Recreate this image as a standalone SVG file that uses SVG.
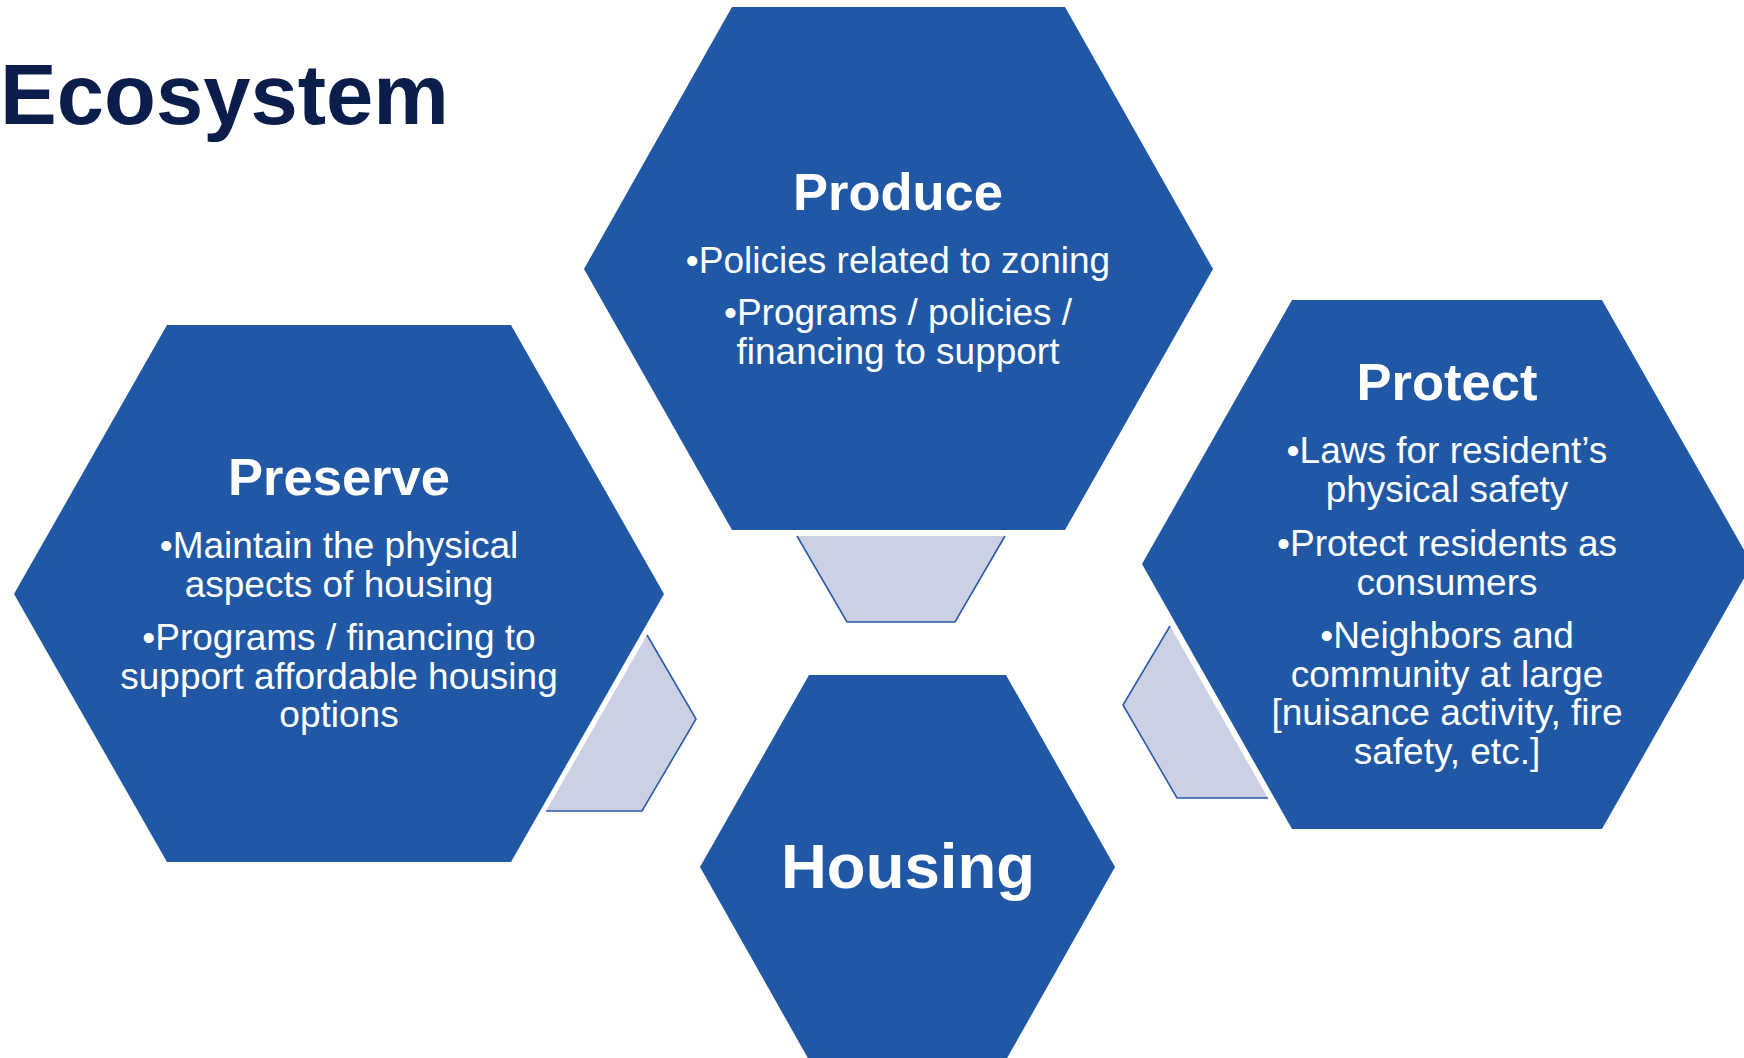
<svg xmlns="http://www.w3.org/2000/svg" width="1744" height="1058" viewBox="0 0 1744 1058">
<style>
.hex{fill:#2058A6;}
.conn-fill{fill:#CBD1E2;stroke:none;}
.conn-line{fill:none;stroke:#2A5BA8;stroke-width:1.6;stroke-linejoin:miter;}
.title{font-family:"Liberation Sans",Arial,sans-serif;font-weight:bold;fill:#ffffff;text-anchor:middle;font-size:52.5px;}
.body{font-family:"Liberation Sans",Arial,sans-serif;fill:#ffffff;text-anchor:middle;font-size:37px;}
.big{font-family:"Liberation Sans",Arial,sans-serif;font-weight:bold;fill:#ffffff;text-anchor:middle;font-size:63.5px;}
.heading{font-family:"Liberation Sans",Arial,sans-serif;font-weight:bold;fill:#0B1E4B;font-size:85px;}
</style>
<rect x="0" y="0" width="1744" height="1058" fill="#ffffff"/>
<text class="heading" x="0" y="124">Ecosystem</text>
<g id="connectors">
  <g id="conn-produce-housing">
    <polygon class="conn-fill" points="797,536 1005,536 955,622 847,622"/>
    <polyline class="conn-line" points="797,536 847,622 955,622 1005,536"/>
  </g>
  <g id="conn-preserve-housing">
    <polygon class="conn-fill" points="647,635 696,719 642,811 546,811"/>
    <polyline class="conn-line" points="647,635 696,719 642,811 546,811"/>
  </g>
  <g id="conn-protect-housing">
    <polygon class="conn-fill" points="1170,626 1123,705 1177,798 1268,798"/>
    <polyline class="conn-line" points="1170,626 1123,705 1177,798 1268,798"/>
  </g>
</g>
<g id="produce">
  <polygon class="hex" points="732,7 1065,7 1213,269 1065,530 732,530 584,269"/>
  <text class="title" x="898" y="210">Produce</text>
  <text class="body" x="898" y="273">•Policies related to zoning</text>
  <text class="body" x="898" y="325">•Programs / policies /</text>
  <text class="body" x="898" y="364">financing to support</text>
</g>
<g id="preserve">
  <polygon class="hex" points="167,325 511,325 664,594 511,862 167,862 14,594"/>
  <text class="title" x="339" y="495">Preserve</text>
  <text class="body" x="339" y="558">•Maintain the physical</text>
  <text class="body" x="339" y="596.5">aspects of housing</text>
  <text class="body" x="339" y="650">•Programs / financing to</text>
  <text class="body" x="339" y="688.5">support affordable housing</text>
  <text class="body" x="339" y="727">options</text>
</g>
<g id="protect">
  <polygon class="hex" points="1292,300 1602,300 1752,564 1602,829 1292,829 1142,564"/>
  <text class="title" x="1447" y="400">Protect</text>
  <text class="body" x="1447" y="463">•Laws for resident’s</text>
  <text class="body" x="1447" y="501.5">physical safety</text>
  <text class="body" x="1447" y="556">•Protect residents as</text>
  <text class="body" x="1447" y="594.5">consumers</text>
  <text class="body" x="1447" y="648">•Neighbors and</text>
  <text class="body" x="1447" y="686.5">community at large</text>
  <text class="body" x="1447" y="725">[nuisance activity, fire</text>
  <text class="body" x="1447" y="763.5">safety, etc.]</text>
</g>
<g id="housing">
  <polygon class="hex" points="809,675 1006,675 1115,867 1006,1060 809,1060 700,867"/>
  <text class="big" x="908" y="888">Housing</text>
</g>
</svg>
